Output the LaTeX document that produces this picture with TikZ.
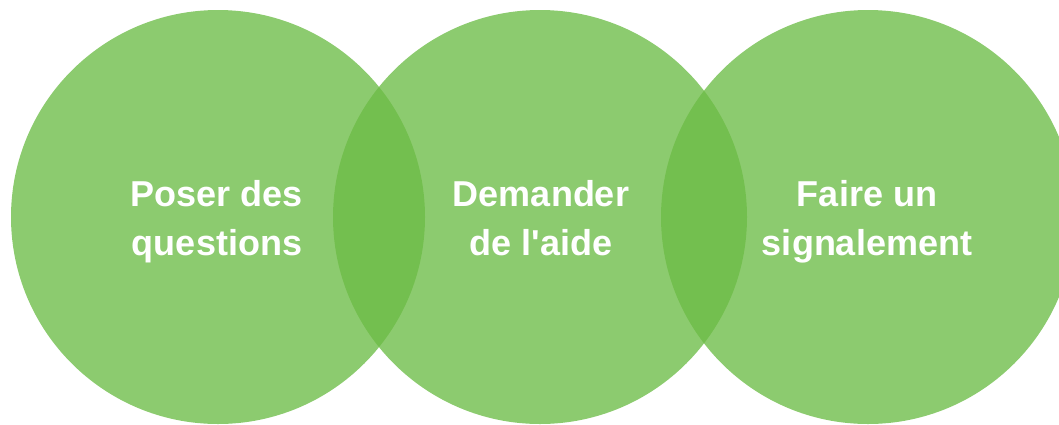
\documentclass[tikz,border=0pt]{standalone}
\usepackage{fontspec}
\setmainfont{Liberation Sans}
\definecolor{vennfill}{RGB}{108,188,70}
\begin{document}
\begin{tikzpicture}[x=1pt,y=-1pt,
  venn/.style={circle,minimum size=414pt,inner sep=0pt,fill=vennfill,fill opacity=0.78,draw=none},
  lbl/.style={text=white,align=center,anchor=north,font=\bfseries\fontsize{36}{49}\selectfont,inner sep=0pt}]
\useasboundingbox (0,0) rectangle (1059,424);
\clip (0,0) rectangle (1059,424);
\node[venn] (c1) at (218,217) {};
\node[venn] (c2) at (540,217) {};
\node[venn] (c3) at (868,217) {};
\node[lbl] (t1) at (217,180) {Poser des\\questions};
\node[lbl] (t2) at (541,180) {Demander\\de l\textquotesingle aide};
\node[lbl] (t3) at (867,180) {Faire un\\signalement};
\end{tikzpicture}
\end{document}
